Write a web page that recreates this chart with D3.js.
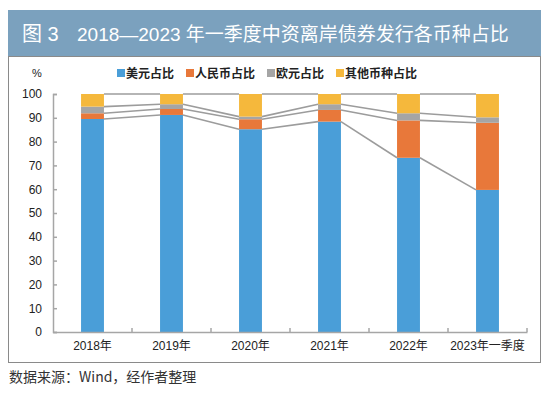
<!DOCTYPE html>
<html>
<head>
<meta charset="utf-8">
<script src="https://cdn.jsdelivr.net/npm/d3@7"></script>
<style>
  body { margin: 0; background: #fff; }
  text { font-family: "Liberation Sans", "Noto Sans CJK SC", sans-serif; }
</style>
</head>
<body>
<div id="chart"></div>
<script>
// data
let years = ["2018年", "2019年", "2020年", "2021年", "2022年", "2023年一季度"]
let usd = [89.5, 91.2, 85.2, 88.4, 73.2, 59.7]
let rmb = [2.4, 2.5, 4.2, 4.9, 15.7, 28.2]
let eur = [2.8, 2.0, 1.1, 2.4, 3.0, 2.3]
let other = [5.3, 4.3, 9.5, 4.3, 8.1, 9.8]
let seriesNames = ["美元占比", "人民币占比", "欧元占比", "其他币种占比"]
let yTicks = [0, 10, 20, 30, 40, 50, 60, 70, 80, 90, 100]

let colors = ["#4a9ed8", "#e8783a", "#a5a5a5", "#f5b83c"]

let width = 550
let height = 395

let svg = d3.select("#chart").append("svg")
    .attr("width", width)
    .attr("height", height)

// title band + frame
svg.append("rect").attr("x", 8.5).attr("y", 56.5).attr("width", 532).attr("height", 306)
    .attr("fill", "#fff").attr("stroke", "#8a8a8a").attr("stroke-width", 1)
svg.append("rect").attr("x", 8).attr("y", 10).attr("width", 533).attr("height", 46)
    .attr("fill", "#7ba1be")
svg.append("text").attr("x", 22).attr("y", 41).attr("fill", "#fff")
    .style("font-size", "20px").text("图 3")
svg.append("text").attr("x", 77).attr("y", 41).attr("fill", "#fff")
    .style("font-size", "19px").text("2018—2023 年一季度中资离岸债券发行各币种占比")

let xscale = d3.scaleBand()
    .domain(years)
    .range([53, 527])
    .paddingInner(0.71)
    .paddingOuter(0.355)

let yscale = d3.scaleLinear()
    .domain([0, 100])
    .range([332, 94])

// stack the four series
let rows = years.map((y, i) => ({ year: y, s0: usd[i], s1: rmb[i], s2: eur[i], s3: other[i] }))
let stacked = d3.stack().keys(["s0", "s1", "s2", "s3"])(rows)

let axisColor = "#a6a6a6"

// y axis, ticks pointing inward
let yAxis = svg.append("g")
    .attr("transform", "translate(53,0)")
    .call(d3.axisLeft(yscale).tickValues(yTicks).tickSize(-4).tickPadding(11))
yAxis.select(".domain").attr("stroke", axisColor).attr("stroke-width", 1.5)
yAxis.selectAll(".tick line").attr("stroke", axisColor).attr("stroke-width", 1.5)
yAxis.selectAll("text").attr("fill", "#222").style("font-size", "12px")
    .style("font-family", "Liberation Sans, sans-serif")

// bars
let groups = svg.selectAll("g.layer").data(stacked).enter().append("g")
    .attr("class", "layer")
    .attr("fill", (d, i) => colors[i])

groups.selectAll("rect").data(d => d).enter().append("rect")
    .attr("x", d => xscale(d.data.year))
    .attr("y", d => yscale(d[1]))
    .attr("width", xscale.bandwidth())
    .attr("height", d => yscale(d[0]) - yscale(d[1]))

// series lines between bars
stacked.forEach(layer => {
    for (let k = 0; k < layer.length - 1; k++) {
        svg.append("line")
            .attr("x1", xscale(years[k]) + xscale.bandwidth())
            .attr("y1", yscale(layer[k][1]))
            .attr("x2", xscale(years[k + 1]))
            .attr("y2", yscale(layer[k + 1][1]))
            .attr("stroke", "#9c9c9c")
            .attr("stroke-width", 1.6)
    }
})

// x axis
let xAxis = svg.append("g")
    .attr("transform", "translate(0,332)")
    .call(d3.axisBottom(xscale).tickSize(0).tickPadding(9))
xAxis.select(".domain").attr("stroke", axisColor).attr("stroke-width", 1.5)
xAxis.selectAll("text").attr("fill", "#222").style("font-size", "12px")
    .style("font-family", "Liberation Sans, Noto Sans CJK SC, sans-serif")

// category boundary ticks, pointing up
let bounds = years.map(y => xscale(y) + xscale.bandwidth() / 2 + xscale.step() / 2)
svg.selectAll("line.xtick").data(bounds).enter().append("line")
    .attr("class", "xtick")
    .attr("x1", d => d).attr("x2", d => d)
    .attr("y1", 332).attr("y2", 328)
    .attr("stroke", axisColor).attr("stroke-width", 1.5)

// unit
svg.append("text").attr("x", 37).attr("y", 77).attr("text-anchor", "middle")
    .attr("fill", "#222").style("font-size", "11px").text("%")

// legend
let legendWidths = [58, 70, 58, 82]
let lx = 117
seriesNames.forEach((name, i) => {
    svg.append("rect").attr("x", lx).attr("y", 69).attr("width", 8).attr("height", 8)
        .attr("fill", colors[i])
    svg.append("text").attr("x", lx + 9).attr("y", 77.5)
        .attr("fill", "#222").style("font-size", "12px").style("font-weight", "bold")
        .style("font-family", "Noto Sans CJK SC, sans-serif")
        .text(name)
    lx += legendWidths[i] + 11
})

// source
svg.append("text").attr("x", 9).attr("y", 382)
    .attr("fill", "#333").style("font-size", "14px")
    .style("font-family", "Noto Sans CJK SC, sans-serif")
    .text("数据来源：Wind，经作者整理")
</script>
</body>
</html>
